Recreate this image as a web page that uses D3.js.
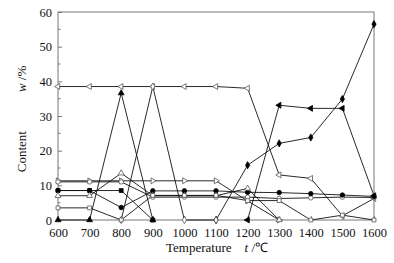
<!DOCTYPE html>
<html><head><meta charset="utf-8">
<script src="https://cdn.jsdelivr.net/npm/d3@7"></script>
<style>body{margin:0;background:#fff}svg{display:block}</style>
</head><body>
<script>
const temps = [600,700,800,900,1000,1100,1200,1300,1400,1500,1600];
const xTicks = [600,700,800,900,1000,1100,1200,1300,1400,1500,1600];
const yTicks = [0,10,20,30,40,50,60];
const N = null;
const sLeftOpen   = [38.5,38.5,38.5,38.5,38.5,38.5,38.0,13.0,12.0,1.2,6.2];
const sLeftFill   = [N,N,N,N,N,N,0,33.1,32.2,32.2,7.0];
const sDiamFill   = [N,N,N,N,N,0,15.8,22.1,23.8,34.9,56.5];
const sTriFill    = [0,0,36.6,0,N,N,N,N,N,N,N];
const sDiamOpen   = [N,N,0,38.5,0,0,N,N,N,N,N];
const sRightOpen  = [11.3,11.3,11.3,11.3,11.3,11.3,5.5,0,N,N,N];
const sCircOpen   = [11.0,11.0,11.0,6.6,6.6,6.6,6.6,6.2,6.4,6.6,6.5];
const sCircFill   = [8.5,8.5,3.6,8.4,8.4,8.4,8.0,7.9,7.6,7.2,6.8];
const sSqFill     = [8.5,8.5,8.5,0,N,N,N,N,N,N,N];
const sTriOpen    = [7.0,7.0,13.5,7.0,7.0,7.0,9.1,0,N,N,N];
const sSqOpen     = [3.5,3.5,0,7.1,7.1,7.1,5.6,5.6,0,1.4,0];

const series = [
  {v:sLeftOpen, shape:"tri", rot:-90, fill:false},
  {v:sLeftFill, shape:"tri", rot:-90, fill:true},
  {v:sDiamFill, shape:"diamond", rot:0, fill:true},
  {v:sTriFill, shape:"tri", rot:0, fill:true},
  {v:sDiamOpen, shape:"diamond", rot:0, fill:false},
  {v:sRightOpen, shape:"tri", rot:90, fill:false},
  {v:sCircOpen, shape:"circle", rot:0, fill:false},
  {v:sCircFill, shape:"circle", rot:0, fill:true},
  {v:sSqFill, shape:"square", rot:0, fill:true},
  {v:sTriOpen, shape:"tri", rot:0, fill:false},
  {v:sSqOpen, shape:"square", rot:0, fill:false}
];

const W=394,H=263, L=58, R=374, T=12, B=220;
const svg = d3.select("body").append("svg").attr("width",W).attr("height",H);
const x = d3.scaleLinear().domain([600,1600]).range([L,R]);
const y = d3.scaleLinear().domain([0,60]).range([B,T]);

// frame
svg.append("rect").attr("x",L).attr("y",T).attr("width",R-L).attr("height",B-T)
  .attr("fill","none").attr("stroke","#777").attr("stroke-width",1);

// y ticks (inward)
const yAx = svg.append("g").attr("transform",`translate(${L},0)`)
  .call(d3.axisLeft(y).tickValues(yTicks).tickSize(-4).tickPadding(6).tickFormat(d3.format("d")));
yAx.select(".domain").remove();
yAx.selectAll("line").attr("stroke","#777");
svg.append("g").selectAll("line").data(d3.range(5,60,10)).join("line")
  .attr("x1",L).attr("x2",L+2.5).attr("y1",d=>y(d)).attr("y2",d=>y(d)).attr("stroke","#777");

const xAx = svg.append("g").attr("transform",`translate(0,${B})`)
  .call(d3.axisBottom(x).tickValues(xTicks).tickSize(-4).tickPadding(8).tickFormat(d3.format("d")));
xAx.select(".domain").remove();
xAx.selectAll("line").attr("stroke","#777");
svg.selectAll(".tick text").attr("font-family","Liberation Serif").attr("font-size",12.5).attr("fill","#111");

// lines
const line = d3.line().defined(d=>d[1]!==null).x(d=>x(d[0])).y(d=>y(d[1]));
series.forEach(s=>{
  const pts = temps.map((t,i)=>[t,s.v[i]]);
  svg.append("path").datum(pts).attr("d",line).attr("fill","none")
    .attr("stroke","#111").attr("stroke-width",0.9);
});
// markers
const symMap = {tri:d3.symbolTriangle, diamond:d3.symbolDiamond, circle:d3.symbolCircle, square:d3.symbolSquare};
const sizeMap = {tri:15, diamond:15, circle:16, square:15};
series.forEach(s=>{
  const pts = temps.map((t,i)=>[t,s.v[i]]).filter(d=>d[1]!==null);
  svg.append("g").selectAll("path").data(pts).join("path")
    .attr("d", d3.symbol().type(symMap[s.shape]).size(sizeMap[s.shape]))
    .attr("transform", d=>`translate(${x(d[0])},${y(d[1])}) rotate(${s.rot})`)
    .attr("fill", s.fill ? "#000" : "#fff")
    .attr("stroke", s.fill ? "#000" : "#555").attr("stroke-width",0.8);
});

// axis titles
const yt = svg.append("text").attr("transform","translate(26,119) rotate(-90)")
  .attr("text-anchor","middle").attr("font-family","Liberation Serif").attr("font-size",13).attr("fill","#111");
yt.append("tspan").text("Content\u2003\u2003\u2003");
yt.append("tspan").attr("font-style","italic").text("w");
yt.append("tspan").text(" /%");

const xt = svg.append("text").attr("x",166).attr("y",252)
  .attr("font-family","Liberation Serif").attr("font-size",13).attr("fill","#111");
xt.append("tspan").text("Temperature\u2003");
xt.append("tspan").attr("font-style","italic").text("t");
xt.append("tspan").text(" /\u2103");
</script>
</body></html>
